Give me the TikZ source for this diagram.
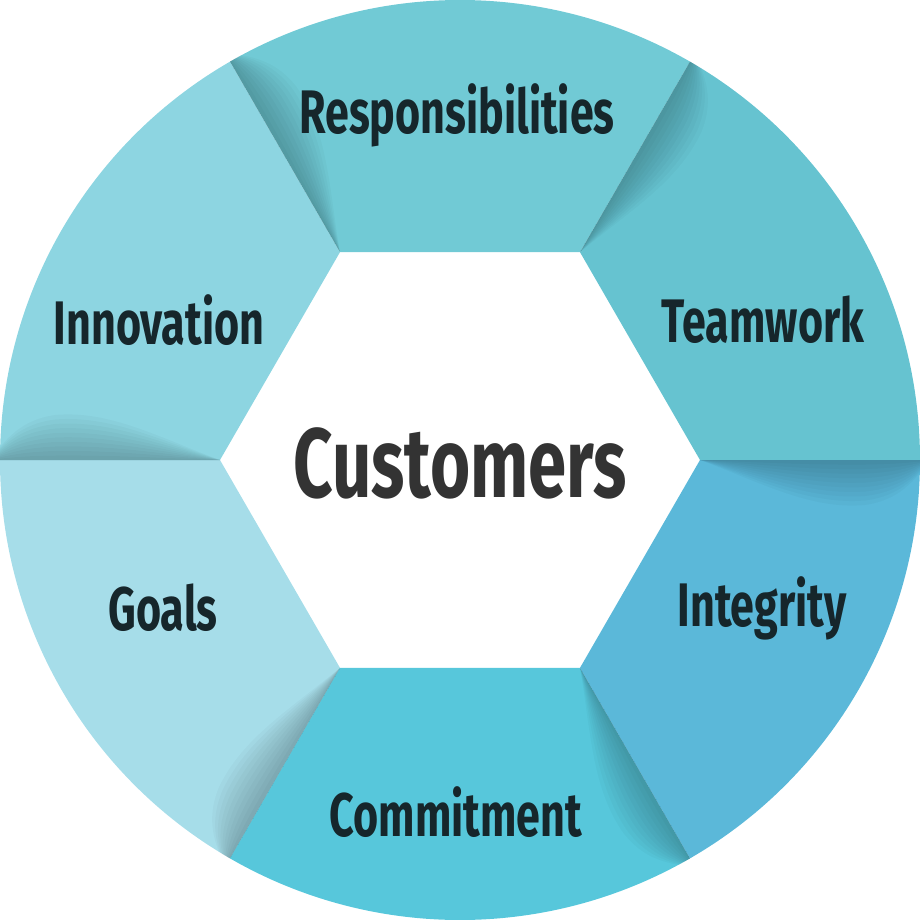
\documentclass[tikz,border=0pt]{standalone}
\usepackage{fontspec}
\newfontfamily\segfont{Fira Sans}[FakeStretch=0.7]
\definecolor{respcol}{HTML}{71CAD5}
\definecolor{teamcol}{HTML}{66C3D0}
\definecolor{integcol}{HTML}{5BB8D9}
\definecolor{commitcol}{HTML}{57C7DB}
\definecolor{goalcol}{HTML}{A6DDE9}
\definecolor{innovcol}{HTML}{8DD5E1}
\definecolor{segtextcol}{HTML}{16262B}
\definecolor{centertextcol}{HTML}{333333}
\tikzset{
  segtext/.style={font=\segfont\bfseries\fontsize{17.5}{17.5}\selectfont, text=segtextcol},
  centertext/.style={font=\segfont\bfseries\fontsize{28}{28}\selectfont, text=centertextcol},
  fold/.style={fill=black, opacity=0.022}
}

\begin{document}
\begin{tikzpicture}
    \def\outerR{4.6}   % Radius of the ring
    \def\innerR{2.4}   % Radius of the hexagon

    \useasboundingbox (-\outerR,-\outerR) rectangle (\outerR,\outerR);

    % Draw the six segments
    \fill[teamcol] (0:\innerR) -- (0:\outerR) arc[start angle=0, end angle=60, radius=\outerR] -- (60:\innerR) -- cycle;
    \fill[respcol] (60:\innerR) -- (60:\outerR) arc[start angle=60, end angle=120, radius=\outerR] -- (120:\innerR) -- cycle;
    \fill[innovcol] (120:\innerR) -- (120:\outerR) arc[start angle=120, end angle=180, radius=\outerR] -- (180:\innerR) -- cycle;
    \fill[goalcol] (180:\innerR) -- (180:\outerR) arc[start angle=180, end angle=240, radius=\outerR] -- (240:\innerR) -- cycle;
    \fill[commitcol] (240:\innerR) -- (240:\outerR) arc[start angle=240, end angle=300, radius=\outerR] -- (300:\innerR) -- cycle;
    \fill[integcol] (300:\innerR) -- (300:\outerR) arc[start angle=300, end angle=360, radius=\outerR] -- (360:\innerR) -- cycle;

    % Fold shadows along each seam
    \begin{scope}
        \clip (0,0) circle (\outerR);
        \foreach \b in {0,60,...,300} {
            \begin{scope}[rotate=\b]
                \foreach \k in {1,...,10}
                    \fill[fold, yscale=\k/10] (\innerR,0) .. controls (3.0,-0.22) and (3.5,-0.5) .. (4.05,-0.45) .. controls (4.4,-0.4) and (4.55,-0.2) .. (4.7,0) -- cycle;
            \end{scope}
        }
    \end{scope}

    % Label the segments
    \node[segtext] (resp) at (-0.03,3.45) {Responsibilities};
    \node[segtext] (team) at (3.03,1.40) {Teamwork};
    \node[segtext] (innov) at (-3.01,1.40) {Innovation};
    \node[segtext] (goals) at (-2.97,-1.48) {Goals};
    \node[segtext] (integ) at (3.02,-1.48) {Integrity};
    \node[segtext] (commit) at (-0.04,-3.52) {Commitment};

    % Label the centre
    \node[centertext] (cust) at (0,-0.03) {Customers};
\end{tikzpicture}
\end{document}
